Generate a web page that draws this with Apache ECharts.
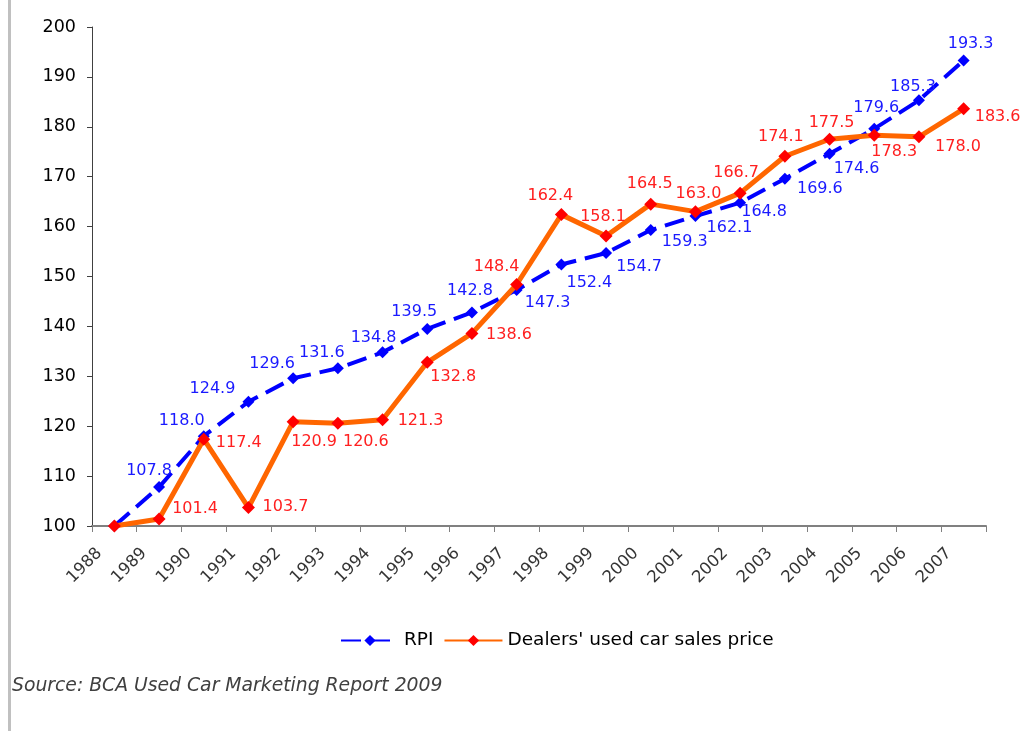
<!DOCTYPE html>
<html>
<head>
<meta charset="utf-8">
<script src="https://cdn.jsdelivr.net/npm/echarts@6/dist/echarts.min.js"></script>
<style>
  html, body { margin: 0; padding: 0; background: #fff; }
  #chart { width: 1035px; height: 731px; }
</style>
</head>
<body>
<div id="chart"></div>
<script>
// Index, 1988 = 100
const years = ['1988','1989','1990','1991','1992','1993','1994','1995','1996','1997',
               '1998','1999','2000','2001','2002','2003','2004','2005','2006','2007'];
const rpi = [100.0, 107.8, 118.0, 124.9, 129.6, 131.6, 134.8, 139.5, 142.8, 147.3,
             152.4, 154.7, 159.3, 162.1, 164.8, 169.6, 174.6, 179.6, 185.3, 193.3];
const dealers = [100.0, 101.4, 117.4, 103.7, 120.9, 120.6, 121.3, 132.8, 138.6, 148.4,
                 162.4, 158.1, 164.5, 163.0, 166.7, 174.1, 177.5, 178.3, 178.0, 183.6];
const yTicks = { min: 100, max: 200, step: 10 };

// Where each value label sits relative to its marker (px); null = no label
const rpiLabelOffsets = [null, [-10,-16], [-22,-15], [-36,-13], [-21,-14], [-16,-15], [-9,-15],
  [-13,-17], [-2,-22], [31,13], [28,18], [33,14], [34,12], [34,12], [24,9], [35,10], [27,15],
  [2,-21], [-6,-14], [7,-17]];
const dealerLabelOffsets = [null, [36,-10], [35,4], [37,-1], [21,20], [28,19], [38,1],
  [26,15], [37,1], [-20,-18], [-11,-19], [-3,-19], [-1,-20], [3,-18], [-4,-20], [-4,-19],
  [2,-16], [20,17], [39,10], [34,8]];

function withLabels(values, offsets, color) {
  return values.map((v, i) => ({
    value: v,
    label: offsets[i] ? {
      show: true, position: 'inside', offset: offsets[i],
      align: 'center', verticalAlign: 'middle',
      color: color, fontSize: 16, fontFamily: 'DejaVu Sans',
      formatter: p => p.value.toFixed(1)
    } : { show: false }
  }));
}

const chart = echarts.init(document.getElementById('chart'), null, { renderer: 'canvas' });
chart.setOption({
  animation: false,
  backgroundColor: '#ffffff',
  grid: { left: 92, right: 49, top: 27, bottom: 205, containLabel: false },
  graphic: [
    { type: 'rect', left: 8, top: 0, shape: { width: 3, height: 731 }, style: { fill: '#c0c0c0' }, silent: true },
    { type: 'text', left: 12, top: 677,
      style: { text: 'Source: BCA Used Car Marketing Report 2009', fill: '#404040',
               font: 'italic 18.8px "DejaVu Sans"' } }
  ],
  legend: {
    bottom: 76, left: 335,
    itemWidth: 58, itemHeight: 14, itemGap: 10,
    textStyle: { color: '#000', fontSize: 18.5, fontFamily: 'DejaVu Sans' },
    data: ['RPI', "Dealers' used car sales price"]
  },
  xAxis: {
    type: 'category', data: years, boundaryGap: true,
    axisLine: { lineStyle: { color: '#808080', width: 2 } },
    axisTick: { show: true, length: 6, lineStyle: { color: '#808080', width: 1 } },
    // year labels are drawn by the 'years' series below, set down-left of each tick
    axisLabel: { show: false }
  },
  yAxis: {
    type: 'value', min: yTicks.min, max: yTicks.max, interval: yTicks.step,
    axisLine: { show: true, lineStyle: { color: '#404040', width: 1 } },
    axisTick: { show: true, length: 5, lineStyle: { color: '#404040' } },
    splitLine: { show: false },
    axisLabel: { margin: 16, color: '#000', fontSize: 17.5, fontFamily: 'DejaVu Sans' }
  },
  series: [
    {
      name: 'RPI', type: 'line', data: withLabels(rpi, rpiLabelOffsets, '#1a1aff'),
      symbol: 'diamond', symbolSize: 12,
      lineStyle: { color: '#0000ff', width: 4, type: [20, 9] },
      itemStyle: { color: '#0000ff' },
      z: 2
    },
    {
      name: "Dealers' used car sales price", type: 'line',
      data: withLabels(dealers, dealerLabelOffsets, '#ff2020'),
      symbol: 'diamond', symbolSize: 13,
      lineStyle: { color: '#ff6600', width: 5 },
      itemStyle: { color: '#ff0000' },
      z: 3
    },
    {
      name: 'years', type: 'scatter', silent: true,
      data: years.map(y => [y, yTicks.min]),
      symbolSize: 0,
      label: {
        // offset is measured along the rotated text: back along the baseline, then down
        show: true, position: 'inside', rotate: 45,
        align: 'right', verticalAlign: 'middle', offset: [-28, 7],
        color: '#000', fontSize: 16.5, fontFamily: 'DejaVu Sans',
        formatter: p => p.value[0]
      },
      z: 1
    }
  ]
});
</script>
</body>
</html>
